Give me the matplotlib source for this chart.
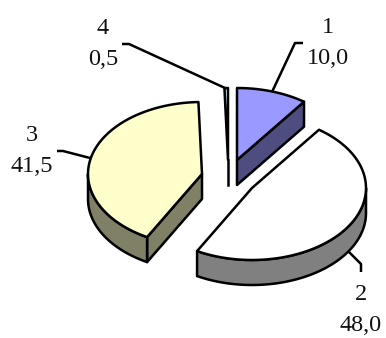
import numpy as np
import matplotlib
matplotlib.use("Agg")
import matplotlib.pyplot as plt

plt.rcParams["font.family"] = ["Liberation Serif", "DejaVu Serif"]

categories = ["1", "2", "3", "4"]
values = [10.0, 48.0, 41.5, 0.5]

top_colors = ["#9999FF", "#FFFFFF", "#FFFFCC", "#CCFFFF"]
side_colors = ["#4D4D80", "#808080", "#808066", "#336666"]

# exploded slice centres, in pixels of the picture
centers = [(237, 160), (252, 188), (202, 174), (228, 160)]
label_pos = [(328, 43), (361, 310), (32, 151), (103, 44)]
leaders = [
    [(272, 92), (295, 43), (303, 43)],
    [(349, 252), (361, 264), (361, 272)],
    [(90, 158), (63, 151), (57, 151)],
    [(225, 88), (129, 44), (122, 44)],
]

RX = 114
RY = 72
DEPTH = 25
LW = 1.8


def arc(center, start, end, drop=0):
    """
    Points on the ellipse, angles in degrees clockwise from 12 o'clock.
    """
    angles = np.radians(np.linspace(start, end, 80))
    xs = center[0] + RX * np.sin(angles)
    ys = center[1] - RY * np.cos(angles) + drop
    return xs, ys


def outline(ax, xs, ys, color):
    ax.fill(xs, ys, facecolor=color, edgecolor="black", linewidth=LW, joinstyle="round")


def draw_slice(ax, center, start, end, top_color, side_color):
    cx, cy = center

    # flat cut facing the viewer
    if end < 90:
        ex, ey = arc(center, end, end)
        xs = [cx, ex[0], ex[0], cx]
        ys = [cy, ey[0], ey[0] + DEPTH, cy + DEPTH]
        outline(ax, xs, ys, side_color)
    if 180 < start < 270:
        sx, sy = arc(center, start, start)
        xs = [cx, sx[0], sx[0], cx]
        ys = [cy, sy[0], sy[0] + DEPTH, cy + DEPTH]
        outline(ax, xs, ys, side_color)

    # outer rim, only the part below the middle of the ellipse shows
    rim_start = max(start, 90)
    rim_end = min(end, 270)
    if rim_start < rim_end:
        tx, ty = arc(center, rim_start, rim_end)
        bx, by = arc(center, rim_end, rim_start, DEPTH)
        outline(ax, np.r_[tx, bx], np.r_[ty, by], side_color)

    # top face
    tx, ty = arc(center, start, end)
    outline(ax, np.r_[cx, tx], np.r_[cy, ty], top_color)


def draw_sliver(ax, center, start, end, top_color):
    cx, cy = center
    ax.plot([cx, cx], [cy, cy + DEPTH], color="black", linewidth=LW)
    tx, ty = arc(center, start, end)
    outline(ax, np.r_[cx, tx], np.r_[cy, ty], top_color)


def main() -> None:
    fig = plt.figure(figsize=(3.86, 3.38), dpi=100)
    ax = fig.add_axes([0, 0, 1, 1])
    ax.set_xlim(0, 386)
    ax.set_ylim(338, 0)
    ax.axis("off")

    total = sum(values)
    bounds = np.r_[0, np.cumsum(values)] / total * 360

    for i in [0, 3, 2, 1]:
        start, end = bounds[i], bounds[i + 1]
        if values[i] < 1:
            draw_sliver(ax, centers[i], start, end, top_colors[i])
        else:
            draw_slice(ax, centers[i], start, end, top_colors[i], side_colors[i])

    for i, name in enumerate(categories):
        xs, ys = zip(*leaders[i])
        ax.plot(xs, ys, color="black", linewidth=LW, solid_capstyle="butt")
        text = f"{name}\n{values[i]:.1f}".replace(".", ",")
        ax.text(label_pos[i][0], label_pos[i][1], text, ha="center", va="center",
                fontsize=17.5, color="#111111", linespacing=1.6)

    fig.savefig("out.png", dpi=100, facecolor="white")


if __name__ == "__main__":
    main()
